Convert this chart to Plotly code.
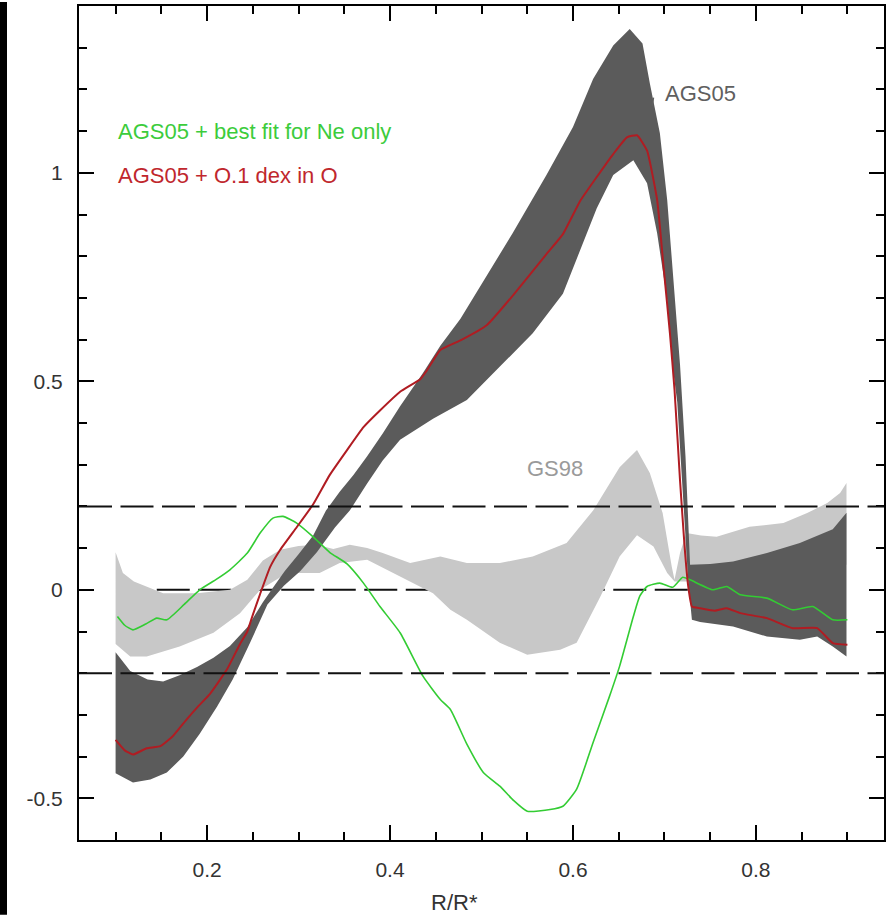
import plotly.graph_objects as go

# ---------------- data ----------------
# AGS05 band (dark grey)
ags_up_x = [0.100, 0.116, 0.135, 0.152, 0.170, 0.189, 0.207, 0.225, 0.244, 0.261, 0.272, 0.285,
            0.300, 0.316, 0.330, 0.345, 0.360, 0.375, 0.392, 0.411, 0.436, 0.455, 0.477, 0.498,
            0.534, 0.571, 0.600, 0.622, 0.644, 0.662, 0.676, 0.684, 0.695, 0.703, 0.709, 0.717,
            0.723, 0.728, 0.750, 0.775, 0.812, 0.848, 0.884, 0.899]
ags_up_y = [-0.15, -0.195, -0.215, -0.22, -0.205, -0.185, -0.163, -0.135, -0.09, -0.03, 0.005, 0.045,
            0.085, 0.13, 0.19, 0.235, 0.275, 0.32, 0.375, 0.44, 0.52, 0.585, 0.65, 0.725,
            0.855, 0.995, 1.11, 1.225, 1.305, 1.345, 1.31, 1.215, 1.095, 0.935, 0.775, 0.54,
            0.32, 0.06, 0.062, 0.068, 0.088, 0.112, 0.145, 0.185]
ags_lo_x = [0.100, 0.119, 0.138, 0.156, 0.174, 0.192, 0.211, 0.228, 0.247, 0.266, 0.284, 0.302,
            0.320, 0.340, 0.356, 0.375, 0.392, 0.411, 0.447, 0.484, 0.520, 0.556, 0.589, 0.608,
            0.626, 0.644, 0.666, 0.681, 0.692, 0.703, 0.709, 0.714, 0.720, 0.726, 0.730, 0.739,
            0.775, 0.812, 0.848, 0.867, 0.884, 0.899]
ags_lo_y = [-0.44, -0.462, -0.455, -0.438, -0.40, -0.345, -0.28, -0.215, -0.127, -0.035, 0.01, 0.045,
            0.09, 0.15, 0.19, 0.255, 0.31, 0.36, 0.41, 0.455, 0.535, 0.615, 0.71, 0.815,
            0.915, 0.995, 1.03, 0.975, 0.855, 0.695, 0.535, 0.45, 0.25, 0.02, -0.072, -0.077,
            -0.088, -0.112, -0.12, -0.112, -0.136, -0.16]

# GS98 band (light grey)
gs_up_x = [0.100, 0.108, 0.120, 0.134, 0.152, 0.189, 0.225, 0.244, 0.261, 0.280, 0.300, 0.320,
           0.338, 0.356, 0.375, 0.392, 0.422, 0.455, 0.484, 0.520, 0.556, 0.593, 0.622, 0.651,
           0.670, 0.684, 0.698, 0.708, 0.711, 0.717, 0.724, 0.740, 0.757, 0.793, 0.830, 0.856,
           0.878, 0.892, 0.899]
gs_up_y = [0.09, 0.04, 0.02, 0.008, -0.008, -0.008, 0.0, 0.024, 0.07, 0.096, 0.105, 0.108,
           0.098, 0.108, 0.10, 0.088, 0.064, 0.08, 0.064, 0.064, 0.08, 0.112, 0.19, 0.294,
           0.335, 0.28, 0.184, 0.055, 0.024, 0.088, 0.136, 0.13, 0.127, 0.151, 0.16, 0.184,
           0.208, 0.232, 0.256]
gs_lo_x = [0.100, 0.116, 0.134, 0.170, 0.207, 0.236, 0.258, 0.280, 0.300, 0.323, 0.345, 0.375,
           0.411, 0.447, 0.466, 0.484, 0.520, 0.550, 0.586, 0.604, 0.630, 0.651, 0.670, 0.688,
           0.703, 0.711, 0.725, 0.760, 0.800, 0.850, 0.899]
gs_lo_y = [-0.13, -0.16, -0.16, -0.136, -0.103, -0.056, 0.0, 0.03, 0.04, 0.04, 0.064, 0.072,
           0.032, -0.008, -0.048, -0.072, -0.127, -0.156, -0.144, -0.127, -0.016, 0.08, 0.131, 0.104,
           0.04, 0.02, 0.02, 0.03, 0.04, 0.05, 0.06]

# AGS05 + 0.1 dex in O (red)
red_x = [0.100, 0.110, 0.119, 0.134, 0.149, 0.163, 0.178, 0.190, 0.203, 0.222, 0.236, 0.244,
         0.250, 0.258, 0.269, 0.280, 0.298, 0.316, 0.334, 0.353, 0.371, 0.389, 0.411, 0.433,
         0.440, 0.455, 0.477, 0.506, 0.534, 0.571, 0.589, 0.608, 0.626, 0.644, 0.659, 0.670,
         0.681, 0.692, 0.699, 0.706, 0.711, 0.717, 0.722, 0.726, 0.730, 0.739, 0.755, 0.768,
         0.783, 0.812, 0.840, 0.867, 0.884, 0.900]
red_y = [-0.36, -0.385, -0.395, -0.38, -0.375, -0.35, -0.31, -0.28, -0.25, -0.19, -0.13, -0.10,
         -0.06, -0.01, 0.055, 0.096, 0.15, 0.205, 0.275, 0.335, 0.39, 0.43, 0.475, 0.505,
         0.525, 0.575, 0.598, 0.635, 0.705, 0.805, 0.853, 0.933, 0.99, 1.045, 1.085, 1.09,
         1.053, 0.935, 0.775, 0.615, 0.48, 0.263, 0.104, 0.008, -0.04, -0.044, -0.05, -0.044,
         -0.056, -0.068, -0.092, -0.092, -0.128, -0.132]

# AGS05 + best fit for Ne only (green)
grn_x = [0.102, 0.110, 0.119, 0.133, 0.145, 0.156, 0.175, 0.192, 0.210, 0.225, 0.244, 0.258,
         0.272, 0.283, 0.298, 0.316, 0.334, 0.353, 0.371, 0.389, 0.411, 0.436, 0.455, 0.466,
         0.484, 0.502, 0.520, 0.535, 0.550, 0.575, 0.589, 0.604, 0.622, 0.640, 0.651, 0.666,
         0.673, 0.681, 0.695, 0.709, 0.720, 0.728, 0.753, 0.768, 0.783, 0.812, 0.840, 0.862,
         0.884, 0.900]
grn_y = [-0.064, -0.085, -0.096, -0.082, -0.068, -0.072, -0.035, 0.0, 0.025, 0.048, 0.088, 0.136,
         0.172, 0.176, 0.16, 0.127, 0.09, 0.062, 0.016, -0.04, -0.103, -0.207, -0.263, -0.287,
         -0.37, -0.438, -0.471, -0.505, -0.531, -0.527, -0.519, -0.478, -0.366, -0.255, -0.183, -0.064,
         -0.015, 0.008, 0.016, 0.006, 0.030, 0.024, 0.0, 0.008, -0.012, -0.02, -0.048, -0.04,
         -0.072, -0.072]

x_range = [0.06, 0.94]
y_range = [-0.6, 1.4]
x_tickvals = [0.2, 0.4, 0.6, 0.8]
x_ticktext = ["0.2", "0.4", "0.6", "0.8"]
y_tickvals = [-0.5, 0, 0.5, 1]
y_ticktext = ["-0.5", "0", "0.5", "1"]
ref_levels = [0.2, -0.2]

# ---------------- figure ----------------
DARK = "#5b5b5b"
LIGHT = "#c8c8c8"
RED = "#b01c22"
GREEN = "#33cc33"
FONT = "Liberation Sans, Arial, sans-serif"

fig = go.Figure()
fig.add_trace(go.Scatter(x=gs_up_x + gs_lo_x[::-1], y=gs_up_y + gs_lo_y[::-1], fill="toself",
                         fillcolor=LIGHT, line=dict(width=0), mode="lines", hoverinfo="skip"))
fig.add_trace(go.Scatter(x=ags_up_x + ags_lo_x[::-1], y=ags_up_y + ags_lo_y[::-1], fill="toself",
                         fillcolor=DARK, line=dict(width=0), mode="lines", hoverinfo="skip"))
fig.add_trace(go.Scatter(x=grn_x, y=grn_y, mode="lines",
                         line=dict(color=GREEN, width=1.6, shape="spline", smoothing=0.5)))
fig.add_trace(go.Scatter(x=red_x, y=red_y, mode="lines",
                         line=dict(color=RED, width=2, shape="spline", smoothing=0.4)))
# invisible helper trace that makes the mirrored (top / right) tick axes render
fig.add_trace(go.Scatter(x=x_range, y=y_range, xaxis="x2", yaxis="y2", mode="markers",
                         marker=dict(opacity=0, size=1), hoverinfo="skip"))

DASH = "33px,8.5px"
for lv in ref_levels:
    fig.add_shape(type="line", xref="paper", x0=0, x1=1, yref="y", y0=lv, y1=lv,
                  line=dict(color="#111111", width=2, dash=DASH), layer="above")
fig.add_shape(type="line", xref="x", x0=0.145, x1=0.73, yref="y", y0=0, y1=0,
              line=dict(color="#111111", width=2, dash=DASH), layer="below")

# left black strip of the scanned page
fig.add_shape(type="rect", xref="paper", yref="paper", x0=-79/805, x1=-72/805,
              y0=-75/836, y1=1 + 4/836, fillcolor="black", line=dict(width=0), layer="above")

fig.add_annotation(x=0.1, y=1.098, xref="x", yref="y", text="AGS05 + best fit for Ne only",
                   showarrow=False, xanchor="left", yanchor="middle",
                   font=dict(family=FONT, size=22, color="#3ccc3c"))
fig.add_annotation(x=0.1, y=0.993, xref="x", yref="y", text="AGS05 + O.1 dex in O",
                   showarrow=False, xanchor="left", yanchor="middle",
                   font=dict(family=FONT, size=22, color="#c0272d"))
fig.add_annotation(x=0.698, y=1.191, xref="x", yref="y", text="AGS05",
                   showarrow=False, xanchor="left", yanchor="middle",
                   font=dict(family=FONT, size=22, color="#5f5f5f"))
fig.add_shape(type="line", xref="x", yref="y", x0=0.6865, x1=0.688, y0=1.16, y1=1.18,
              line=dict(color="#5f5f5f", width=1.5), layer="above")
fig.add_annotation(x=0.580, y=0.292, xref="x", yref="y", text="GS98",
                   showarrow=False, xanchor="center", yanchor="middle",
                   font=dict(family=FONT, size=22, color="#9a9a9a"))
fig.add_annotation(x=0.466, y=-0.075, xref="paper", yref="paper", text="R/R*",
                   showarrow=False, xanchor="center", yanchor="middle",
                   font=dict(family=FONT, size=22, color="#333333"))

tick_common = dict(ticks="inside", ticklen=15, tickwidth=2, tickcolor="black",
                   showgrid=False, zeroline=False,
                   tickfont=dict(family=FONT, size=21, color="#333333"))
x_minor = dict(ticks="inside", ticklen=8, tickwidth=2, tickcolor="black",
               dtick=0.05, tick0=0, showgrid=False)
y_minor = dict(ticks="inside", ticklen=8, tickwidth=2, tickcolor="black",
               dtick=0.1, tick0=0, showgrid=False)

fig.update_layout(
    xaxis=dict(range=x_range, tickvals=x_tickvals, ticktext=x_ticktext, minor=x_minor,
               showline=True, linecolor="black", linewidth=2, mirror=True,
               ticklabelstandoff=10, **tick_common),
    yaxis=dict(range=y_range, tickvals=y_tickvals, ticktext=y_ticktext, minor=y_minor,
               showline=True, linecolor="black", linewidth=2, mirror=True,
               ticklabelstandoff=10, **tick_common),
    xaxis2=dict(range=x_range, tickvals=x_tickvals, minor=x_minor, overlaying="x",
                side="top", anchor="y2", showticklabels=False, showline=False, **tick_common),
    yaxis2=dict(range=y_range, tickvals=y_tickvals, minor=y_minor, overlaying="y",
                side="right", anchor="x2", showticklabels=False, showline=False, **tick_common),
    width=892, height=915, margin=dict(l=79, r=8, t=4, b=75),
    paper_bgcolor="white", plot_bgcolor="white", showlegend=False)

fig.write_html("out.html")
